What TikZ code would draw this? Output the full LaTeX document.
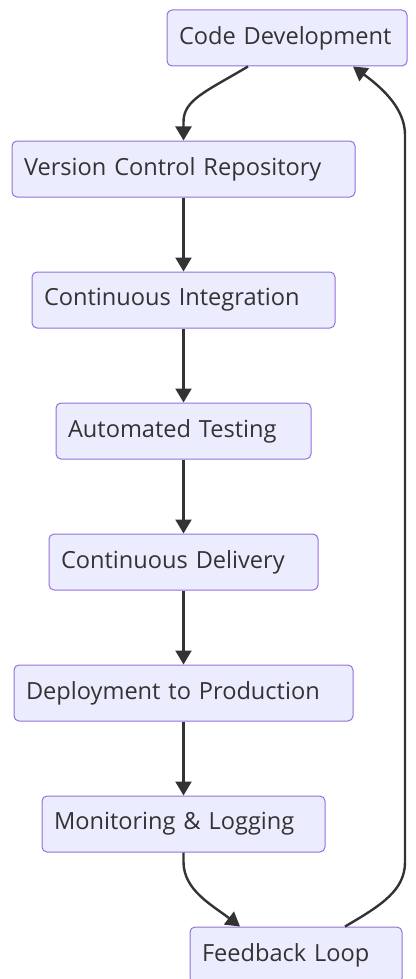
\documentclass[tikz,border=0pt]{standalone}
\usepackage{fontspec}
\setmainfont{Open Sans}
\usetikzlibrary{arrows.meta}

\definecolor{boxfill}{HTML}{ECECFF}
\definecolor{boxline}{HTML}{9370DB}
\definecolor{ink}{HTML}{333333}

\tikzset{
  box/.style={draw=boxline, fill=boxfill, line width=1pt, rounded corners=5pt,
    minimum height=56pt, inner xsep=12pt, align=left, text=ink,
    font=\fontsize{23.6}{28}\selectfont},
  flow/.style={draw=ink, line width=2.4pt, -{Triangle[length=14pt,width=16pt]}}
}

\begin{document}
\begin{tikzpicture}[x=1pt, y=-1pt]
            \useasboundingbox (0, 0) rectangle (415, 979);
            % pipeline stages, top to bottom
            \node[box, minimum width=240pt, text width=216pt] (cd) at (287, 38) {Code Development};
            \node[box, minimum width=343pt, text width=319pt] (vcr) at (183.5, 169) {Version Control Repository};
            \node[box, minimum width=303pt, text width=279pt] (ci) at (183.5, 300) {Continuous Integration};
            \node[box, minimum width=255pt, text width=231pt] (at) at (183.5, 431) {Automated Testing};
            \node[box, minimum width=269pt, text width=245pt] (cdl) at (183.5, 562) {Continuous Delivery};
            \node[box, minimum width=339pt, text width=315pt] (dp) at (183.5, 693) {Deployment to Production};
            \node[box, minimum width=283pt, text width=259pt] (ml) at (183.5, 824) {Monitoring \& Logging};
            \node[box, minimum width=212pt, text width=188pt] (fb) at (296, 955) {Feedback Loop};

            % forward edges
            \draw[flow] ([xshift=-39pt]cd.south) .. controls (205, 92) and (183.5, 100) .. (183.5, 122) -- (vcr.north);
            \draw[flow] (vcr) -- (ci);
            \draw[flow] (ci) -- (at);
            \draw[flow] (at) -- (cdl);
            \draw[flow] (cdl) -- (dp);
            \draw[flow] (dp) -- (ml);
            \draw[flow] (ml.south) -- (183.5, 862) .. controls (183.5, 890) and (212, 905) .. ([xshift=-56pt]fb.north);

            % feedback back to the start
            \draw[flow] ([xshift=49pt]fb.north) .. controls (382, 905) and (405, 890) .. (405, 862)
                -- (405, 135) .. controls (405, 110) and (385, 90) .. ([xshift=66pt]cd.south);
        \end{tikzpicture}
\end{document}
